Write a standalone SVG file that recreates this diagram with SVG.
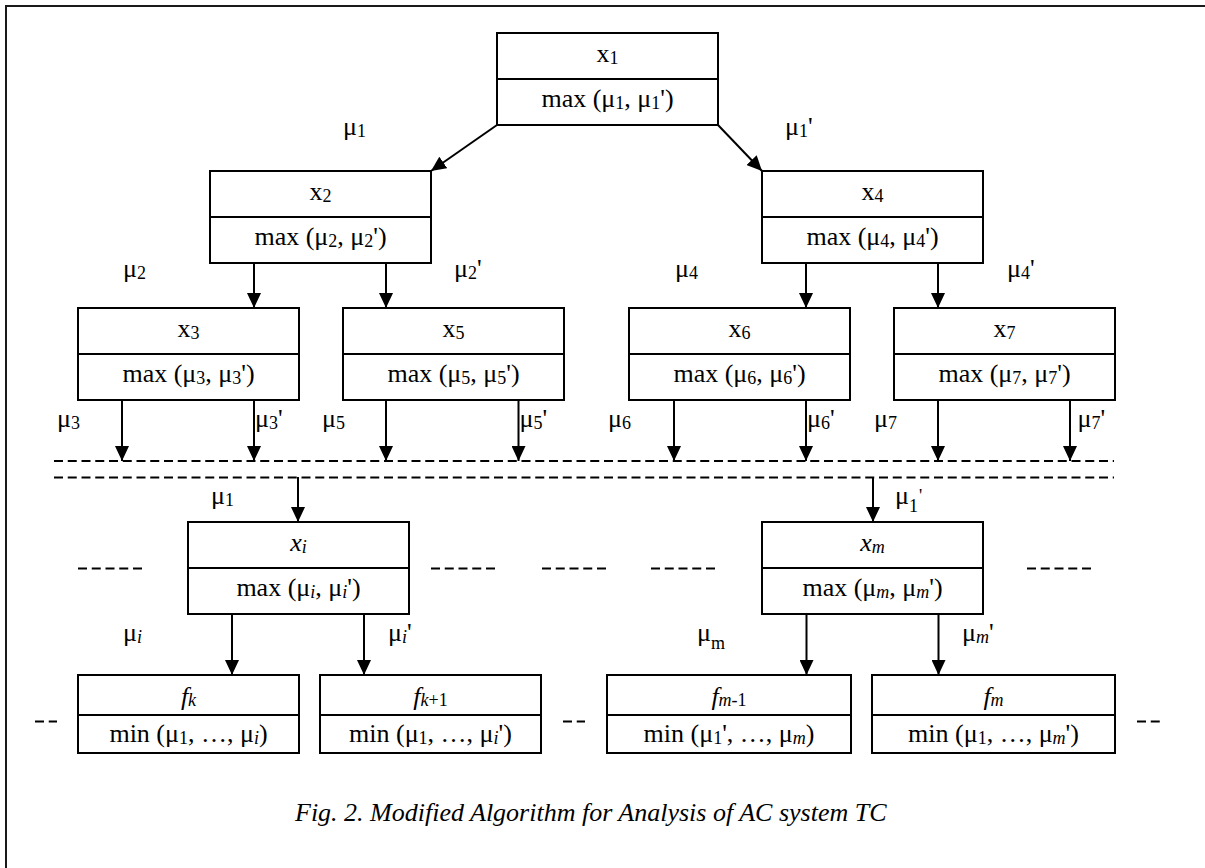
<svg xmlns="http://www.w3.org/2000/svg" width="1205" height="868" viewBox="0 0 1205 868">
<defs>
<marker id="ah" markerUnits="userSpaceOnUse" markerWidth="16" markerHeight="14" refX="15" refY="7" orient="auto">
<path d="M0,0 L15,7 L0,14 z" fill="#000"/>
</marker>
<style>
.box{fill:#fff;stroke:#000;stroke-width:2}
.t{font-family:"Liberation Serif","Times New Roman",serif;font-size:26px;fill:#000}
.c{text-anchor:middle}
.s{font-size:18px}
.i{font-style:italic}
.arr{stroke:#000;stroke-width:2;fill:none;marker-end:url(#ah)}
.dl{stroke:#000;stroke-width:2;stroke-dasharray:9 4.75;fill:none}
.frame{stroke:#1a1a1a;stroke-width:2;fill:none}
</style>
</defs>
<rect width="1205" height="868" fill="#fff"/>
<path class="frame" d="M6,868 L6,6 L1205,6"/>

<g id="n-x1">
<rect class="box" x="497" y="33" width="221" height="92"/><line class="box" x1="497" y1="79" x2="718" y2="79"/>
<text class="t c" x="607.5" y="61.5">x<tspan class="s" dy="2">1</tspan></text>
<text class="t c" x="607.5" y="107">max (μ<tspan class="s" dy="2">1</tspan><tspan dy="-2">, μ</tspan><tspan class="s" dy="2">1</tspan><tspan dy="-2">')</tspan></text>
</g>
<g id="n-x2">
<rect class="box" x="210" y="171" width="221" height="92"/><line class="box" x1="210" y1="217" x2="431" y2="217"/>
<text class="t c" x="320.5" y="199.5">x<tspan class="s" dy="2">2</tspan></text>
<text class="t c" x="320.5" y="245">max (μ<tspan class="s" dy="2">2</tspan><tspan dy="-2">, μ</tspan><tspan class="s" dy="2">2</tspan><tspan dy="-2">')</tspan></text>
</g>
<g id="n-x4">
<rect class="box" x="762" y="171" width="221" height="92"/><line class="box" x1="762" y1="217" x2="983" y2="217"/>
<text class="t c" x="872.5" y="199.5">x<tspan class="s" dy="2">4</tspan></text>
<text class="t c" x="872.5" y="245">max (μ<tspan class="s" dy="2">4</tspan><tspan dy="-2">, μ</tspan><tspan class="s" dy="2">4</tspan><tspan dy="-2">')</tspan></text>
</g>
<g id="n-x3">
<rect class="box" x="78" y="308" width="221" height="92"/><line class="box" x1="78" y1="354" x2="299" y2="354"/>
<text class="t c" x="188.5" y="336.5">x<tspan class="s" dy="2">3</tspan></text>
<text class="t c" x="188.5" y="382">max (μ<tspan class="s" dy="2">3</tspan><tspan dy="-2">, μ</tspan><tspan class="s" dy="2">3</tspan><tspan dy="-2">')</tspan></text>
</g>
<g id="n-x5">
<rect class="box" x="343" y="308" width="221" height="92"/><line class="box" x1="343" y1="354" x2="564" y2="354"/>
<text class="t c" x="453.5" y="336.5">x<tspan class="s" dy="2">5</tspan></text>
<text class="t c" x="453.5" y="382">max (μ<tspan class="s" dy="2">5</tspan><tspan dy="-2">, μ</tspan><tspan class="s" dy="2">5</tspan><tspan dy="-2">')</tspan></text>
</g>
<g id="n-x6">
<rect class="box" x="629" y="308" width="221" height="92"/><line class="box" x1="629" y1="354" x2="850" y2="354"/>
<text class="t c" x="739.5" y="336.5">x<tspan class="s" dy="2">6</tspan></text>
<text class="t c" x="739.5" y="382">max (μ<tspan class="s" dy="2">6</tspan><tspan dy="-2">, μ</tspan><tspan class="s" dy="2">6</tspan><tspan dy="-2">')</tspan></text>
</g>
<g id="n-x7">
<rect class="box" x="894" y="308" width="221" height="92"/><line class="box" x1="894" y1="354" x2="1115" y2="354"/>
<text class="t c" x="1004.5" y="336.5">x<tspan class="s" dy="2">7</tspan></text>
<text class="t c" x="1004.5" y="382">max (μ<tspan class="s" dy="2">7</tspan><tspan dy="-2">, μ</tspan><tspan class="s" dy="2">7</tspan><tspan dy="-2">')</tspan></text>
</g>
<g id="n-xi">
<rect class="box" x="188" y="522" width="221" height="92"/><line class="box" x1="188" y1="568" x2="409" y2="568"/>
<text class="t c" x="298.5" y="550.5"><tspan class="i">x</tspan><tspan class="s i" dy="2">i</tspan></text>
<text class="t c" x="298.5" y="596">max (μ<tspan class="s i" dy="2">i</tspan><tspan dy="-2">, μ</tspan><tspan class="s i" dy="2">i</tspan><tspan dy="-2">')</tspan></text>
</g>
<g id="n-xm">
<rect class="box" x="762" y="522" width="221" height="92"/><line class="box" x1="762" y1="568" x2="983" y2="568"/>
<text class="t c" x="872.5" y="550.5"><tspan class="i">x</tspan><tspan class="s i" dy="2">m</tspan></text>
<text class="t c" x="872.5" y="596">max (μ<tspan class="s i" dy="2">m</tspan><tspan dy="-2">, μ</tspan><tspan class="s i" dy="2">m</tspan><tspan dy="-2">')</tspan></text>
</g>
<g id="n-fk">
<rect class="box" x="78" y="675" width="221" height="78"/><line class="box" x1="78" y1="715" x2="299" y2="715"/>
<text class="t c" x="188.5" y="705"><tspan class="i">f</tspan><tspan class="s i" dy="1">k</tspan></text>
<text class="t c" x="188.5" y="742">min (μ<tspan class="s" dy="2">1</tspan><tspan dy="-2">, …, μ</tspan><tspan class="s i" dy="2">i</tspan><tspan dy="-2">)</tspan></text>
</g>
<g id="n-fk1">
<rect class="box" x="320" y="675" width="221" height="78"/><line class="box" x1="320" y1="715" x2="541" y2="715"/>
<text class="t c" x="430.5" y="705"><tspan class="i">f</tspan><tspan class="s i" dy="1">k</tspan><tspan class="s">+1</tspan></text>
<text class="t c" x="430.5" y="742">min (μ<tspan class="s" dy="2">1</tspan><tspan dy="-2">, …, μ</tspan><tspan class="s i" dy="2">i</tspan><tspan dy="-2">')</tspan></text>
</g>
<g id="n-fm1">
<rect class="box" x="607" y="675" width="244" height="78"/><line class="box" x1="607" y1="715" x2="851" y2="715"/>
<text class="t c" x="729" y="705"><tspan class="i">f</tspan><tspan class="s i" dy="1">m</tspan><tspan class="s">-1</tspan></text>
<text class="t c" x="729" y="742">min (μ<tspan class="s" dy="2">1</tspan><tspan dy="-2">', …, μ</tspan><tspan class="s i" dy="2">m</tspan><tspan dy="-2">)</tspan></text>
</g>
<g id="n-fm">
<rect class="box" x="872" y="675" width="243" height="78"/><line class="box" x1="872" y1="715" x2="1115" y2="715"/>
<text class="t c" x="993.5" y="705"><tspan class="i">f</tspan><tspan class="s i" dy="1">m</tspan></text>
<text class="t c" x="993.5" y="742">min (μ<tspan class="s" dy="2">1</tspan><tspan dy="-2">, …, μ</tspan><tspan class="s i" dy="2">m</tspan><tspan dy="-2">')</tspan></text>
</g>

<g id="connectors">
<line class="arr" x1="497" y1="125" x2="431" y2="171"/>
<line class="arr" x1="718" y1="125" x2="762" y2="171"/>
<line class="arr" x1="254" y1="263" x2="254" y2="308"/>
<line class="arr" x1="386" y1="263" x2="386" y2="308"/>
<line class="arr" x1="806" y1="263" x2="806" y2="308"/>
<line class="arr" x1="938" y1="263" x2="938" y2="308"/>
<line class="arr" x1="122" y1="400" x2="122" y2="461"/>
<line class="arr" x1="254" y1="400" x2="254" y2="461"/>
<line class="arr" x1="386" y1="400" x2="386" y2="461"/>
<line class="arr" x1="518.5" y1="400" x2="518.5" y2="461"/>
<line class="arr" x1="674" y1="400" x2="674" y2="461"/>
<line class="arr" x1="806" y1="400" x2="806" y2="461"/>
<line class="arr" x1="938" y1="400" x2="938" y2="461"/>
<line class="arr" x1="1070" y1="400" x2="1070" y2="461"/>
<line class="arr" x1="298" y1="477" x2="298" y2="522"/>
<line class="arr" x1="873" y1="477" x2="873" y2="522"/>
<line class="arr" x1="232" y1="614" x2="232" y2="675"/>
<line class="arr" x1="364" y1="614" x2="364" y2="675"/>
<line class="arr" x1="806.5" y1="614" x2="806.5" y2="675"/>
<line class="arr" x1="938.5" y1="614" x2="938.5" y2="675"/>
</g>

<g id="dashes">
<line class="dl" x1="54" y1="461" x2="1114" y2="461"/>
<line class="dl" x1="54" y1="477.5" x2="1114" y2="477.5"/>
<line class="dl" x1="78" y1="568.5" x2="142" y2="568.5"/>
<line class="dl" x1="431" y1="568.5" x2="495" y2="568.5"/>
<line class="dl" x1="542" y1="568.5" x2="606" y2="568.5"/>
<line class="dl" x1="651" y1="568.5" x2="715" y2="568.5"/>
<line class="dl" x1="1027" y1="568.5" x2="1091" y2="568.5"/>
<line class="dl" x1="35" y1="721.5" x2="57" y2="721.5"/>
<line class="dl" x1="563" y1="721.5" x2="585" y2="721.5"/>
<line class="dl" x1="1137" y1="721.5" x2="1160" y2="721.5"/>
</g>

<g id="labels">
<text class="t" x="343" y="135">μ<tspan class="s" dy="2">1</tspan></text>
<text class="t" x="785" y="135">μ<tspan class="s" dy="2">1</tspan><tspan dy="-2">'</tspan></text>
<text class="t" x="123" y="277">μ<tspan class="s" dy="2">2</tspan></text>
<text class="t" x="454" y="277">μ<tspan class="s" dy="2">2</tspan><tspan dy="-2">'</tspan></text>
<text class="t" x="675" y="277">μ<tspan class="s" dy="2">4</tspan></text>
<text class="t" x="1007" y="277">μ<tspan class="s" dy="2">4</tspan><tspan dy="-2">'</tspan></text>
<text class="t" x="57" y="427">μ<tspan class="s" dy="2">3</tspan></text>
<text class="t" x="255" y="427">μ<tspan class="s" dy="2">3</tspan><tspan dy="-2">'</tspan></text>
<text class="t" x="322" y="427">μ<tspan class="s" dy="2">5</tspan></text>
<text class="t" x="519.5" y="427">μ<tspan class="s" dy="2">5</tspan><tspan dy="-2">'</tspan></text>
<text class="t" x="608" y="427">μ<tspan class="s" dy="2">6</tspan></text>
<text class="t" x="807" y="427">μ<tspan class="s" dy="2">6</tspan><tspan dy="-2">'</tspan></text>
<text class="t" x="874" y="427">μ<tspan class="s" dy="2">7</tspan></text>
<text class="t" x="1077.5" y="427">μ<tspan class="s" dy="2">7</tspan><tspan dy="-2">'</tspan></text>
<text class="t" x="211" y="504">μ<tspan class="s" dy="2">1</tspan></text>
<text class="t" x="895" y="504">μ<tspan class="s" dy="8">1</tspan><tspan class="s" dx="1" dy="-10">'</tspan></text>
<text class="t" x="123" y="641">μ<tspan class="s i" dy="2">i</tspan></text>
<text class="t" x="388" y="641">μ<tspan class="s i" dy="2">i</tspan><tspan dy="-2">'</tspan></text>
<text class="t" x="697" y="641">μ<tspan class="s" dy="8">m</tspan></text>
<text class="t" x="962" y="641">μ<tspan class="s i" dy="2">m</tspan><tspan dy="-2">'</tspan></text>
</g>

<text id="caption" class="t i" x="295" y="821">Fig. 2. Modified Algorithm for Analysis of AC system TC</text>
</svg>
